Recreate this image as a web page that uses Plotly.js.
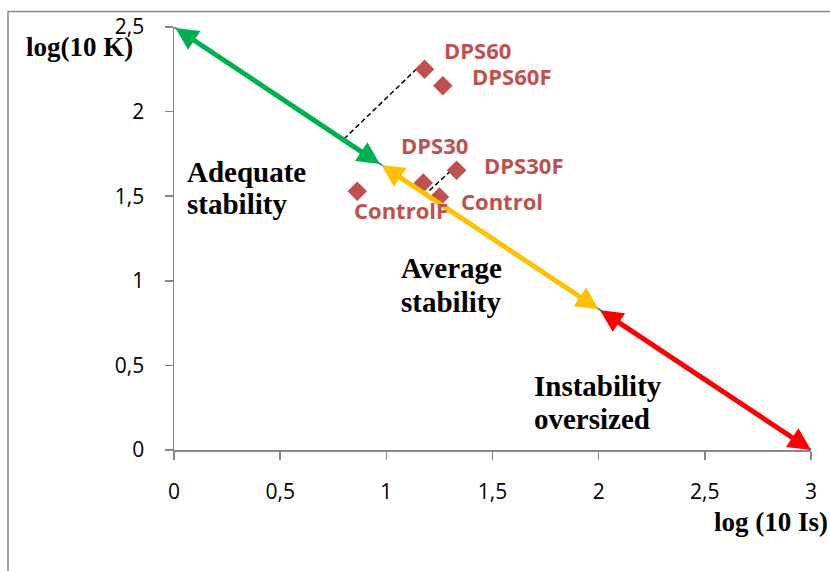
<!DOCTYPE html>
<html>
<head>
<meta charset="utf-8">
<script src="https://cdn.plot.ly/plotly-3.0.1.min.js"></script>
<style>
  html, body { margin: 0; padding: 0; background: #ffffff; }
  #chart { width: 830px; height: 571px; }
</style>
</head>
<body>
<div id="chart"></div>
<script>
// Samples placed on the stability diagram
const sampleNames = ['DPS60', 'DPS60F', 'DPS30', 'DPS30F', 'Control', 'ControlF'];
const sampleLogIs = [1.18, 1.266, 1.174, 1.331, 1.25, 0.863];
const sampleLogK  = [2.25, 2.153, 1.578, 1.653, 1.495, 1.529];

// Reference line log(10 K) vs log(10 Is) and the stability zone limits on it
const refLineX = [0, 3];
const refLineY = [2.5, 0];
const zoneX = [0, 0.97, 2.0, 3];
const zoneY = [2.5, 1.69, 0.832, 0];
const zoneColors = ['#00B050', '#FFC000', '#FF0000'];
const zoneNames = [['Adequate', 'stability'], ['Average', 'stability'], ['Instability', 'oversized']];

// Projection guides from two samples onto the reference line
const guideFromX = [1.143, 1.331];
const guideFromY = [2.253, 1.682];
const guideToX = [0.802, 1.187];
const guideToY = [1.84, 1.515];

// Axis ticks
const xTicks = [0, 0.5, 1, 1.5, 2, 2.5, 3];
const yTicks = [0, 0.5, 1, 1.5, 2, 2.5];

// Placement of the zone names: left edge and the centre of each text line
const zoneLabelPlace = [
  { x: 0.052, lines: [1.641, 1.452] },
  { x: 1.06,  lines: [1.074, 0.874] },
  { x: 1.686, lines: [0.378, 0.183] }
];

// Pixel offsets of each sample label from its marker
const labelShift = {
  'DPS60':    [53, 19],
  'DPS60F':   [69, 10],
  'DPS30':    [11, 38],
  'DPS30F':   [67, 5],
  'Control':  [63, -4],
  'ControlF': [44, -19]
};

const serif = 'Liberation Serif, Times New Roman, serif';
const traces = [];

traces.push({
  x: refLineX, y: refLineY,
  mode: 'lines', type: 'scatter',
  line: { color: '#4F81BD', width: 2 },
  cliponaxis: false, hoverinfo: 'skip', showlegend: false
});

for (let i = 0; i < guideFromX.length; i++) {
  traces.push({
    x: [guideFromX[i], guideToX[i]], y: [guideFromY[i], guideToY[i]],
    mode: 'lines', type: 'scatter',
    line: { color: '#000000', width: 1.5, dash: '5px,3px' },
    hoverinfo: 'skip', showlegend: false
  });
}

traces.push({
  x: sampleLogIs, y: sampleLogK, text: sampleNames,
  mode: 'markers', type: 'scatter',
  marker: { symbol: 'diamond', size: 15, color: '#C0504D' },
  cliponaxis: false, showlegend: false
});

const annotations = [];

// Double-headed arrows for each zone along the reference line
for (let i = 0; i < zoneColors.length; i++) {
  annotations.push({
    x: zoneX[i + 1], y: zoneY[i + 1],
    ax: zoneX[i], ay: zoneY[i],
    xref: 'x', yref: 'y', axref: 'x', ayref: 'y',
    text: '', showarrow: true,
    arrowside: 'end+start',
    arrowhead: 2, startarrowhead: 2,
    arrowsize: 0.9, startarrowsize: 0.9,
    arrowwidth: 5, arrowcolor: zoneColors[i],
    standoff: 0, startstandoff: 0
  });
}

// Zone names, one annotation per text line
zoneNames.forEach((lines, i) => {
  lines.forEach((line, j) => {
    annotations.push({
      x: zoneLabelPlace[i].x, y: zoneLabelPlace[i].lines[j], xref: 'x', yref: 'y',
      text: '<b>' + line + '</b>', showarrow: false,
      xanchor: 'left', yanchor: 'middle', align: 'left',
      font: { family: serif, size: 29, color: '#000000' }
    });
  });
});

// Sample labels
for (let i = 0; i < sampleNames.length; i++) {
  const s = labelShift[sampleNames[i]];
  annotations.push({
    x: sampleLogIs[i], y: sampleLogK[i], xref: 'x', yref: 'y',
    text: '<b>' + sampleNames[i] + '</b>', showarrow: false,
    xshift: s[0], yshift: s[1],
    font: { family: 'Open Sans, sans-serif', size: 22, color: '#C0504D' }
  });
}

// Axis names
annotations.push({
  x: -0.1476, y: 0.9516, xref: 'paper', yref: 'paper',
  text: '<b>log(10 K)</b>', showarrow: false,
  xanchor: 'center', yanchor: 'middle',
  font: { family: serif, size: 27, color: '#000000' }
});
annotations.push({
  x: 0.8446, y: -0.17, xref: 'paper', yref: 'paper',
  text: '<b>log (10 Is)</b>', showarrow: false,
  xanchor: 'left', yanchor: 'middle',
  font: { family: serif, size: 27, color: '#000000' }
});

const axisFont = { family: 'Open Sans, sans-serif', size: 21, color: '#000000' };

const layout = {
  width: 830, height: 571,
  margin: { l: 174, r: 19, t: 26.5, b: 121 },
  paper_bgcolor: '#ffffff', plot_bgcolor: '#ffffff',
  separators: ',.',
  showlegend: false,
  xaxis: {
    range: [0, 3], tickvals: xTicks, showgrid: false, zeroline: false,
    showline: true, linecolor: '#868686', linewidth: 1.5,
    ticks: 'outside', ticklen: 8, tickcolor: '#868686', tickwidth: 1.5,
    ticklabelstandoff: 14, tickfont: axisFont, fixedrange: true
  },
  yaxis: {
    range: [0, 2.5], tickvals: yTicks, showgrid: false, zeroline: false,
    showline: true, linecolor: '#868686', linewidth: 1.5,
    ticks: 'outside', ticklen: 8, tickcolor: '#868686', tickwidth: 1.5,
    ticklabelstandoff: 16, tickfont: axisFont, fixedrange: true
  },
  shapes: [{
    type: 'rect', xref: 'paper', yref: 'paper',
    x0: -0.2606, x1: 1.6, y0: -1, y1: 1.0366,
    line: { color: '#888888', width: 1.5 }, fillcolor: 'rgba(0,0,0,0)'
  }],
  annotations: annotations
};

Plotly.newPlot('chart', traces, layout, { displayModeBar: false, staticPlot: true });
</script>
</body>
</html>
